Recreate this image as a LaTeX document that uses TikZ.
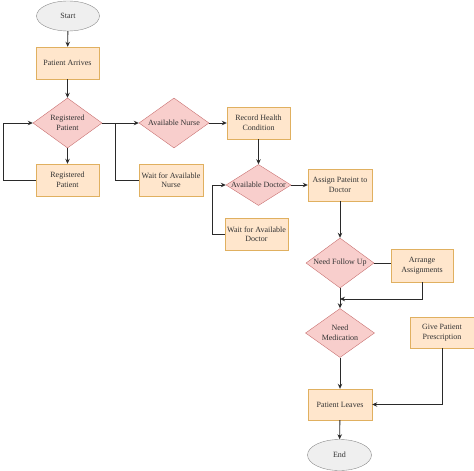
\documentclass[tikz,border=0pt]{standalone}
\usepackage{fontspec}
\setmainfont{Liberation Serif}
\usetikzlibrary{shapes.geometric,arrows.meta}
\definecolor{boxfill}{HTML}{FFE6CC}
\definecolor{boxline}{HTML}{E0B060}
\definecolor{dfill}{HTML}{F8CECC}
\definecolor{dline}{HTML}{C87070}
\definecolor{efill}{HTML}{EFEFEF}
\definecolor{eline}{HTML}{8A8A8A}
\definecolor{txt}{HTML}{333333}
\definecolor{wire}{HTML}{2A2A2A}
\newcommand\zw[1]{\makebox[0pt][c]{#1}}
\tikzset{
  boxnode/.style={draw=boxline, fill=boxfill, minimum width=63pt, minimum height=32pt, inner sep=1pt, align=center, font=\fontsize{8}{9.5}\selectfont, text=txt},
  decnode/.style={draw=dline, fill=dfill, shape=diamond, inner sep=0pt, minimum width=69pt, minimum height=50pt, align=center, font=\fontsize{8}{9.5}\selectfont, text=txt},
  termnode/.style={draw=eline, fill=efill, shape=ellipse, inner sep=0pt, minimum width=63pt, minimum height=30pt, font=\fontsize{8}{9.5}\selectfont, text=txt},
  wireline/.style={draw=wire, line width=0.9pt},
  arrowline/.style={wireline, -{Stealth[length=5pt,width=4.5pt]}}
}
\begin{document}
\begin{tikzpicture}[x=1pt,y=-1pt]
\useasboundingbox (0,0) rectangle (474,471);
\node[termnode] (start) at (68,16) {Start};
\node[boxnode] (arrives) at (67.5,63) {Patient Arrives};
\node[decnode] (rpd) at (67.5,123) {\zw{Registered}\\\zw{Patient}};
\node[boxnode] (rpb) at (67.5,180) {Registered\\Patient};
\node[decnode, minimum width=70pt] (and) at (174,123) {\zw{Available Nurse}};
\node[boxnode, minimum width=64pt] (wn) at (171,180) {Wait for Available\\Nurse};
\node[boxnode] (rhc) at (258.5,123) {Record Health\\Condition};
\node[decnode, minimum width=65pt, minimum height=41pt] (adc) at (258.5,185) {\zw{Available Doctor}};
\node[boxnode] (wd) at (256.5,234) {Wait for Available\\Doctor};
\node[boxnode, minimum width=64pt] (asg) at (340,185) {Assign Pateint to\\Doctor};
\node[decnode, minimum width=68pt] (nfu) at (340,263) {\zw{Need Follow Up}};
\node[boxnode, minimum width=62pt, minimum height=33pt] (arr) at (422,265.5) {Arrange\\Assignments};
\node[decnode, minimum height=49pt] (nm) at (340,333) {\zw{Need}\\\zw{Medication}};
\node[boxnode, minimum width=64pt, minimum height=31pt] (gpp) at (442,332.5) {Give Patient\\Prescription};
\node[boxnode, minimum width=64pt, minimum height=31pt] (pl) at (340,404.5) {Patient Leaves};
\node[termnode, minimum width=64pt, minimum height=31pt] (end) at (339.5,455) {End};
\coordinate (br) at (115,123);
\coordinate (jn) at (340,299);
\draw[arrowline] (start) -- (arrives);
\draw[arrowline] (arrives) -- (rpd);
\draw[arrowline] (rpd) -- (rpb);
\draw[arrowline] (rpb.west) -- ++(-32,0) |- (rpd.west);
\draw[arrowline] (rpd.east) -- (and.west);
\draw[wireline] (br) |- (wn.west);
\draw[arrowline] (and.east) -- (rhc.west);
\draw[arrowline] (rhc) -- (adc);
\draw[arrowline] (wd.west) -- ++(-12,0) |- (adc.west);
\draw[arrowline] (adc.east) -- (asg.west);
\draw[arrowline] (asg) -- (nfu);
\draw[wireline] (nfu.east) -- (nfu.east -| arr.west);
\draw[arrowline] (arr.south) |- (jn);
\draw[arrowline] (nfu) -- (nm);
\draw[arrowline] (nm) -- (pl);
\draw[arrowline] (gpp.south) |- (pl.east);
\draw[arrowline] (pl) -- (end);
\end{tikzpicture}
\end{document}
